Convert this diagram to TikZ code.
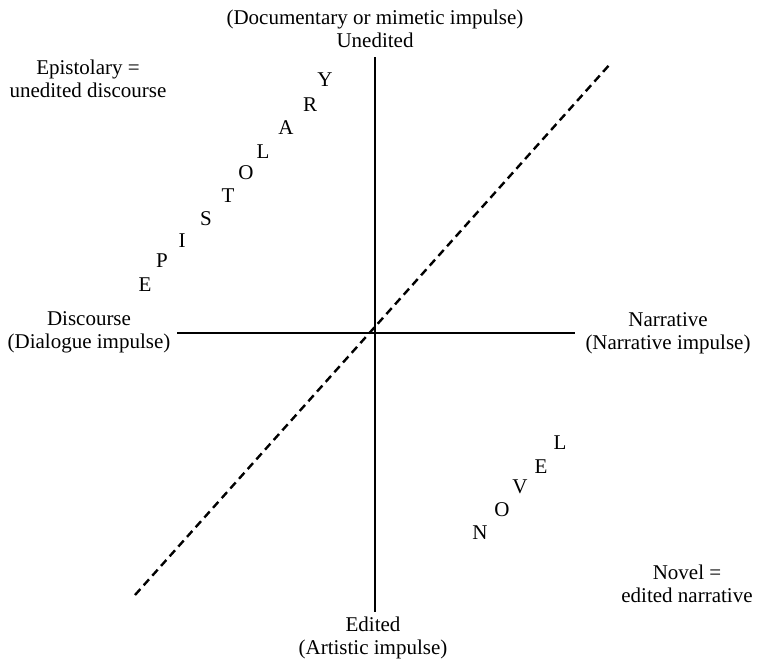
\documentclass[tikz,border=0pt]{standalone}
\usepackage{fontspec}
\setmainfont{Liberation Serif}
\begin{document}
\begin{tikzpicture}[x=1pt,y=-1pt,
  lbl/.style={align=center,inner sep=0pt,font=\fontsize{21}{23}\selectfont},
  ltr/.style={inner sep=0pt,font=\fontsize{21}{23}\selectfont},
  axis/.style={line width=2.2pt},
  diag/.style={line width=2.4pt,dash pattern=on 8pt off 5pt}]
\useasboundingbox (0,0) rectangle (757,659);
% axis end points
\coordinate (top) at (375,57);
\coordinate (bot) at (375,612);
\coordinate (lft) at (177,333);
\coordinate (rgt) at (575,333);
\coordinate (dlo) at (135,595);
\coordinate (dhi) at (611,63);
\draw[axis] (top) -- (bot);
\draw[axis] (lft) -- (rgt);
\draw[diag] (dlo) -- (dhi);
% axis labels
\node[lbl] (toplbl) at (375,29) {(Documentary or mimetic impulse)\\Unedited};
\node[lbl] (botlbl) at (373,638) {Edited\\(Artistic impulse)};
\node[lbl] (lftlbl) at (89,332) {Discourse\\(Dialogue impulse)};
\node[lbl] (rgtlbl) at (668,333) {Narrative\\(Narrative impulse)};
\node[lbl] (epi) at (88,79) {Epistolary =\\unedited discourse};
\node[lbl] (nov) at (687,584) {Novel =\\edited narrative};
% EPISTOLARY
\node[ltr] (e1) at (145,285) {E};
\node[ltr] (e2) at (162,261) {P};
\node[ltr] (e3) at (182,241) {I};
\node[ltr] (e4) at (206,219) {S};
\node[ltr] (e5) at (228,196) {T};
\node[ltr] (e6) at (246,173) {O};
\node[ltr] (e7) at (263,152) {L};
\node[ltr] (e8) at (286,128) {A};
\node[ltr] (e9) at (310,105) {R};
\node[ltr] (e10) at (325,80) {Y};
% NOVEL
\node[ltr] (n1) at (480,533) {N};
\node[ltr] (n2) at (502,510) {O};
\node[ltr] (n3) at (520,487) {V};
\node[ltr] (n4) at (541,467) {E};
\node[ltr] (n5) at (560,443) {L};
\end{tikzpicture}
\end{document}
